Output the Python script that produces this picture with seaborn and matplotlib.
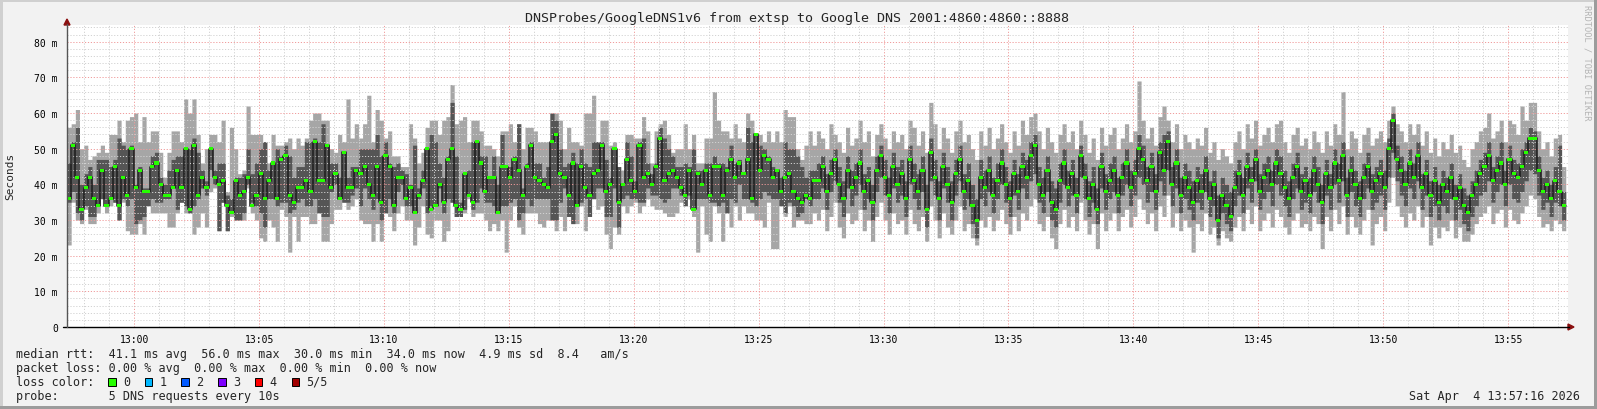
import numpy as np
import matplotlib
matplotlib.use("Agg")
import matplotlib.pyplot as plt
from matplotlib.patches import Rectangle, Polygon
from matplotlib.lines import Line2D
import seaborn as sns

# one value per 10 s step (360 steps), milliseconds
rtt_median = [
    36, 51, 42, 33, 39, 42, 36, 34, 44, 34,
    36, 45, 34, 42, 37, 50, 39, 44, 38, 38,
    45, 46, 40, 37, 37, 39, 44, 39, 50, 33,
    51, 37, 42, 39, 50, 42, 40, 41, 34, 32,
    41, 37, 38, 42, 34, 37, 43, 36, 41, 46,
    36, 47, 48, 37, 35, 39, 39, 41, 38, 52,
    41, 41, 51, 39, 43, 36, 49, 39, 39, 44,
    43, 45, 40, 37, 45, 35, 48, 45, 34, 42,
    42, 36, 39, 32, 37, 41, 50, 33, 34, 40,
    35, 47, 50, 34, 33, 43, 37, 35, 52, 46,
    38, 42, 42, 32, 45, 45, 42, 47, 44, 37,
    45, 51, 42, 41, 40, 39, 52, 54, 43, 42,
    37, 46, 34, 45, 39, 37, 43, 44, 51, 38,
    40, 50, 35, 40, 47, 41, 38, 51, 42, 43,
    40, 45, 53, 41, 43, 44, 42, 39, 37, 44,
    33, 43, 40, 44, 37, 45, 45, 37, 44, 47,
    42, 46, 43, 47, 36, 54, 44, 48, 47, 42,
    44, 38, 42, 43, 38, 36, 35, 37, 36, 41,
    41, 45, 38, 43, 47, 40, 36, 44, 39, 42,
    46, 38, 41, 35, 44, 48, 42, 37, 45, 40,
    43, 36, 47, 41, 38, 44, 33, 49, 42, 36,
    45, 40, 35, 43, 47, 38, 41, 34, 30, 42,
    39, 44, 37, 41, 46, 40, 36, 43, 38, 45,
    42, 48, 51, 40, 37, 44, 35, 33, 41, 46,
    39, 43, 37, 48, 42, 36, 40, 33, 45, 38,
    41, 44, 37, 42, 46, 39, 43, 50, 47, 41,
    45, 38, 49, 44, 52, 40, 46, 37, 42, 39,
    35, 41, 38, 44, 36, 40, 30, 37, 34, 31,
    39, 43, 37, 45, 41, 47, 38, 42, 44, 40,
    46, 43, 39, 36, 42, 45, 38, 41, 37, 44,
    40, 35, 43, 39, 46, 41, 48, 37, 44, 40,
    36, 42, 45, 38, 41, 43, 39, 50, 58, 47,
    44, 40, 46, 42, 48, 39, 43, 37, 41, 35,
    40, 38, 42, 36, 39, 34, 32, 37, 40, 43,
    45, 48, 41, 44, 46, 40, 47, 43, 42, 45,
    49, 53, 53, 44, 38, 40, 36, 41, 38, 34,
]
rtt_max = [
    56, 57, 61, 50, 51, 47, 48, 49, 51, 49,
    54, 54, 58, 52, 58, 59, 60, 52, 59, 52,
    55, 55, 49, 42, 49, 55, 55, 52, 64, 60,
    64, 54, 46, 50, 54, 54, 52, 58, 38, 56,
    50, 43, 44, 62, 54, 54, 54, 52, 46, 54,
    51, 51, 52, 53, 50, 53, 51, 53, 58, 60,
    60, 58, 58, 50, 49, 54, 52, 64, 53, 57,
    53, 57, 65, 52, 61, 58, 53, 55, 48, 48,
    45, 45, 57, 53, 46, 49, 56, 58, 58, 54,
    58, 59, 68, 57, 58, 59, 52, 58, 58, 55,
    51, 51, 50, 48, 55, 55, 57, 52, 57, 50,
    56, 56, 55, 52, 52, 52, 60, 60, 58, 50,
    56, 52, 52, 51, 60, 60, 65, 52, 58, 58,
    51, 52, 45, 44, 54, 54, 53, 53, 59, 55,
    46, 55, 57, 58, 54, 49, 50, 50, 57, 50,
    54, 46, 46, 53, 53, 66, 58, 55, 55, 53,
    57, 53, 52, 60, 58, 54, 54, 52, 55, 52,
    55, 52, 61, 59, 59, 50, 47, 51, 55, 51,
    55, 53, 50, 57, 54, 52, 49, 56, 51, 53,
    58, 52, 55, 48, 54, 57, 53, 50, 55, 52,
    54, 50, 58, 56, 51, 55, 49, 63, 57, 50,
    56, 53, 49, 55, 58, 52, 54, 50, 47, 55,
    51, 56, 50, 53, 57, 52, 49, 55, 51, 58,
    54, 59, 60, 55, 50, 56, 52, 49, 54, 57,
    52, 55, 50, 58, 54, 49, 53, 47, 56, 51,
    54, 56, 50, 53, 57, 52, 55, 69, 58, 53,
    56, 51, 59, 62, 58, 52, 57, 50, 54, 52,
    50, 53, 51, 56, 49, 52, 47, 50, 48, 46,
    52, 55, 50, 57, 53, 58, 51, 54, 56, 52,
    57, 58, 52, 49, 54, 56, 51, 53, 50, 55,
    52, 49, 55, 51, 57, 54, 66, 50, 55, 53,
    49, 54, 56, 51, 53, 55, 52, 58, 62, 57,
    55, 52, 57, 54, 57, 51, 55, 49, 53, 48,
    52, 50, 54, 49, 51, 47, 45, 50, 52, 55,
    56, 60, 53, 55, 58, 52, 58, 57, 54, 62,
    58, 63, 63, 55, 50, 52, 48, 53, 54, 45,
]
rtt_high = [
    46, 52, 56, 40, 43, 45, 40, 47, 47, 47,
    45, 47, 53, 51, 50, 51, 40, 45, 39, 39,
    48, 49, 42, 40, 44, 47, 48, 48, 50, 50,
    53, 49, 44, 41, 50, 44, 46, 46, 37, 36,
    42, 42, 43, 50, 43, 46, 50, 52, 44, 46,
    50, 48, 51, 48, 42, 45, 45, 52, 52, 53,
    52, 57, 51, 46, 46, 42, 49, 42, 45, 45,
    50, 50, 50, 50, 54, 48, 52, 46, 45, 46,
    44, 43, 40, 51, 39, 44, 50, 54, 52, 46,
    42, 48, 63, 48, 35, 43, 44, 52, 52, 48,
    48, 42, 48, 40, 54, 45, 45, 48, 57, 39,
    46, 52, 46, 46, 42, 45, 60, 58, 50, 45,
    46, 49, 46, 50, 46, 45, 52, 52, 52, 47,
    42, 50, 45, 40, 52, 48, 41, 52, 53, 46,
    43, 46, 56, 53, 50, 48, 45, 45, 46, 45,
    50, 44, 44, 46, 46, 48, 46, 46, 45, 51,
    46, 47, 43, 56, 52, 54, 51, 50, 48, 45,
    44, 42, 52, 50, 50, 48, 45, 42, 44, 44,
    46, 48, 43, 47, 50, 45, 41, 48, 44, 46,
    50, 43, 45, 40, 48, 51, 47, 42, 49, 45,
    47, 41, 51, 46, 43, 48, 40, 53, 47, 41,
    49, 45, 41, 47, 51, 43, 46, 40, 36, 47,
    44, 48, 42, 46, 50, 45, 41, 47, 43, 49,
    47, 52, 54, 45, 42, 48, 41, 39, 46, 50,
    44, 47, 42, 51, 46, 41, 45, 39, 49, 43,
    46, 48, 42, 46, 50, 44, 47, 54, 51, 45,
    49, 43, 52, 54, 55, 45, 50, 42, 46, 44,
    41, 45, 43, 48, 41, 44, 37, 42, 40, 38,
    44, 47, 42, 49, 45, 50, 43, 46, 48, 44,
    50, 48, 44, 41, 46, 49, 43, 45, 42, 48,
    45, 40, 47, 43, 50, 46, 52, 42, 48, 44,
    41, 46, 49, 43, 45, 47, 44, 53, 60, 51,
    48, 44, 50, 46, 52, 43, 47, 41, 45, 40,
    44, 42, 46, 40, 43, 39, 37, 41, 44, 47,
    49, 52, 45, 48, 52, 44, 51, 47, 46, 50,
    52, 56, 55, 48, 42, 44, 40, 45, 51, 38,
]
rtt_low = [
    35, 38, 32, 30, 34, 31, 31, 34, 36, 34,
    36, 35, 30, 36, 34, 36, 29, 30, 31, 34,
    36, 35, 35, 36, 36, 39, 33, 35, 34, 32,
    34, 36, 39, 37, 44, 40, 27, 35, 27, 32,
    30, 30, 32, 40, 35, 34, 32, 28, 36, 36,
    34, 35, 35, 32, 33, 35, 36, 34, 34, 36,
    32, 31, 31, 38, 40, 36, 35, 35, 37, 39,
    34, 39, 36, 33, 36, 30, 32, 36, 32, 38,
    40, 34, 34, 32, 36, 39, 32, 34, 34, 39,
    32, 36, 35, 31, 31, 33, 37, 33, 35, 39,
    35, 35, 34, 32, 34, 34, 35, 36, 30, 32,
    36, 34, 36, 36, 36, 36, 30, 30, 35, 39,
    31, 29, 34, 35, 36, 31, 36, 39, 39, 31,
    31, 39, 28, 36, 37, 36, 36, 35, 35, 39,
    37, 37, 36, 35, 36, 39, 39, 37, 34, 37,
    33, 36, 36, 36, 35, 35, 34, 35, 32, 36,
    35, 40, 36, 36, 35, 34, 36, 38, 37, 36,
    36, 34, 32, 35, 34, 31, 32, 36, 34, 36,
    36, 39, 33, 38, 41, 35, 31, 39, 34, 37,
    40, 33, 36, 30, 38, 42, 37, 32, 39, 35,
    37, 31, 40, 36, 33, 38, 28, 41, 37, 30,
    39, 35, 30, 37, 41, 33, 36, 29, 25, 36,
    34, 38, 32, 36, 40, 35, 31, 37, 33, 39,
    36, 41, 43, 35, 32, 38, 30, 28, 35, 40,
    34, 37, 32, 42, 36, 31, 35, 29, 39, 33,
    36, 38, 32, 37, 40, 34, 37, 42, 40, 35,
    38, 33, 41, 37, 44, 34, 39, 32, 36, 33,
    30, 35, 33, 38, 31, 34, 25, 32, 29, 27,
    34, 37, 32, 39, 35, 41, 33, 36, 38, 34,
    40, 37, 34, 31, 36, 39, 33, 35, 32, 38,
    35, 29, 37, 33, 40, 35, 41, 31, 38, 34,
    31, 36, 39, 33, 35, 37, 33, 42, 49, 41,
    37, 34, 39, 36, 41, 33, 37, 31, 34, 30,
    34, 32, 36, 30, 33, 29, 27, 31, 34, 37,
    38, 41, 35, 38, 40, 34, 40, 36, 35, 38,
    41, 44, 43, 37, 33, 35, 31, 35, 34, 30,
]
rtt_min = [
    23, 35, 30, 29, 33, 29, 29, 32, 36, 32,
    34, 35, 30, 35, 27, 26, 26, 29, 26, 34,
    32, 32, 32, 32, 28, 28, 32, 35, 32, 32,
    26, 28, 32, 28, 38, 39, 27, 35, 27, 31,
    30, 30, 30, 39, 32, 30, 25, 24, 30, 28,
    24, 33, 31, 21, 31, 24, 31, 31, 29, 29,
    32, 24, 24, 29, 33, 33, 35, 33, 34, 36,
    30, 29, 29, 24, 29, 24, 32, 31, 27, 32,
    34, 30, 30, 23, 28, 34, 26, 25, 30, 30,
    24, 27, 35, 31, 31, 32, 36, 31, 32, 32,
    30, 27, 29, 27, 30, 21, 30, 34, 28, 26,
    32, 32, 32, 29, 28, 30, 30, 27, 31, 27,
    31, 29, 29, 34, 27, 31, 36, 33, 34, 26,
    22, 28, 26, 34, 32, 34, 35, 32, 34, 36,
    34, 33, 33, 32, 31, 31, 32, 35, 34, 36,
    31, 21, 34, 26, 24, 34, 32, 24, 32, 28,
    34, 30, 34, 32, 32, 30, 30, 28, 35, 22,
    22, 34, 31, 34, 28, 30, 30, 29, 29, 32,
    30, 33, 27, 31, 35, 28, 25, 32, 29, 30,
    33, 27, 30, 24, 31, 35, 30, 26, 32, 29,
    30, 26, 33, 29, 27, 31, 24, 34, 30, 25,
    32, 28, 26, 30, 34, 27, 29, 25, 23, 30,
    28, 31, 27, 30, 33, 29, 26, 31, 27, 32,
    30, 34, 36, 29, 27, 31, 25, 22, 29, 33,
    28, 31, 27, 35, 30, 26, 29, 22, 32, 27,
    30, 32, 27, 31, 33, 28, 31, 36, 33, 29,
    32, 27, 34, 31, 37, 28, 32, 27, 30, 28,
    21, 29, 27, 32, 26, 28, 23, 27, 25, 24,
    28, 31, 27, 33, 29, 34, 27, 30, 32, 28,
    33, 31, 28, 26, 30, 32, 28, 29, 27, 31,
    29, 22, 31, 27, 33, 29, 34, 26, 31, 28,
    26, 30, 33, 23, 29, 31, 27, 35, 42, 34,
    31, 28, 32, 30, 34, 28, 31, 23, 28, 25,
    28, 27, 30, 25, 28, 24, 24, 26, 29, 31,
    32, 34, 29, 32, 33, 28, 33, 30, 29, 32,
    34, 37, 36, 31, 28, 29, 27, 30, 29, 27,
]

time_ticks = [0, 5, 10, 15, 20, 25, 30, 35, 40, 45, 50, 55]   # minutes after 13:00
time_labels = ["13:00", "13:05", "13:10", "13:15", "13:20", "13:25",
               "13:30", "13:35", "13:40", "13:45", "13:50", "13:55"]
value_ticks = [0, 10, 20, 30, 40, 50, 60, 70, 80]
value_labels = ["0", "10 m", "20 m", "30 m", "40 m", "50 m", "60 m", "70 m", "80 m"]
loss_labels = ["0", "1", "2", "3", "4", "5/5"]
loss_colors = ["#26ff00", "#00b8ff", "#0059ff", "#7e00ff", "#ff0000", "#a10000"]

W, H = 1597, 410
MONO = "DejaVu Sans Mono"

sns.set_style("white")
plt.rcParams["font.family"] = [MONO, "DejaVu Sans"]


def fx(x):
    return x / W


def fy(y):
    return 1 - y / H


fig = plt.figure(figsize=(W / 100, H / 100), dpi=100, facecolor="#f2f2f2")
ax = fig.add_axes([fx(67), fy(328), (1568 - 67) / W, (328 - 26) / H])
ax.set_facecolor("white")

t0 = -2.69
step = 1 / 6
n = len(rtt_median)
edges = t0 + np.arange(n + 1) * step


def pad(v):
    v = np.asarray(v, dtype=float)
    return np.append(v, v[-1])


# smoke: light outer band, dark inner band
ax.fill_between(edges, pad(rtt_min), pad(rtt_max), step="post",
                color="#a6a6a6", lw=0, zorder=1)
ax.fill_between(edges, pad(rtt_low), pad(rtt_high), step="post",
                color="#555555", lw=0, zorder=1.2)

# median line plus loss-coloured marks
sns.lineplot(x=edges, y=pad(rtt_median), ax=ax, drawstyle="steps-post",
             color="#1c1c1c", linewidth=1.1, estimator=None, sort=False,
             errorbar=None, zorder=3)
ax.bar(edges[:-1], 0.85, bottom=np.asarray(rtt_median) - 0.425, width=step,
       align="edge", color=loss_colors[0], linewidth=0, zorder=4)

ax.set_xlim(t0, 57.4)
ax.set_ylim(0, 84.7)
ax.set_xticks(time_ticks)
ax.set_xticklabels(time_labels)
ax.set_xticks(np.arange(-2, 58, 1), minor=True)
ax.set_yticks(value_ticks)
ax.set_yticklabels(value_labels)
ax.set_yticks(np.arange(0, 85, 2), minor=True)
ax.set_axisbelow(False)
ax.grid(which="minor", color="#d2d2d2", linestyle=(0, (1.2, 1.8)), linewidth=0.7)
ax.grid(which="major", color="#f09a9a", linestyle=(0, (1.2, 1.8)), linewidth=0.7)
ax.tick_params(axis="x", which="major", length=3, width=0.6, direction="inout",
               pad=3.5, labelsize=7, colors="#000000")
ax.tick_params(axis="x", which="minor", length=3, width=0.5, direction="inout",
               color="#888888")
ax.tick_params(axis="y", which="major", length=3, width=0.6, direction="out",
               pad=3.5, labelsize=7, colors="#000000")
ax.tick_params(axis="y", which="minor", length=0)
for s in ax.spines.values():
    s.set_visible(False)

# axis lines with arrows
fig.add_artist(Line2D([fx(63), fx(1569)], [fy(328), fy(328)], color="#000000",
                      lw=1.0, transform=fig.transFigure))
fig.add_artist(Line2D([fx(67), fx(67)], [fy(328), fy(25)], color="#555555",
                      lw=1.0, transform=fig.transFigure))
fig.add_artist(Polygon([[fx(1568), fy(325)], [fx(1568), fy(331)], [fx(1574), fy(328)]],
                       closed=True, color="#8b1010", transform=fig.transFigure))
fig.add_artist(Polygon([[fx(64), fy(26)], [fx(70), fy(26)], [fx(67), fy(20)]],
                       closed=True, color="#8b1010", transform=fig.transFigure))

# title, axis label, watermark
fig.text(fx(797), fy(18.5), "DNSProbes/GoogleDNS1v6 from extsp to Google DNS 2001:4860:4860::8888",
         ha="center", va="center", fontsize=9.6, family=MONO)
fig.text(fx(10.5), fy(176), "Seconds", rotation=90, ha="center", va="center",
         fontsize=8, family=MONO)
fig.text(fx(1587), fy(5), "RRDTOOL / TOBI OETIKER", rotation=270, ha="center",
         va="top", fontsize=6.2, family=MONO, color="#b4b4b4")

# legend block
lx = 16
fig.text(fx(lx), fy(354.5),
         "median rtt:  41.1 ms avg  56.0 ms max  30.0 ms min  34.0 ms now  4.9 ms sd  8.4   am/s",
         va="center", fontsize=8.5, family=MONO)
fig.text(fx(lx), fy(368.7),
         "packet loss: 0.00 % avg  0.00 % max  0.00 % min  0.00 % now",
         va="center", fontsize=8.5, family=MONO)
fig.text(fx(lx), fy(382.5), "loss color:", va="center", fontsize=8.5, family=MONO)
for i, (lab, col) in enumerate(zip(loss_labels, loss_colors)):
    bx = 108 + 36.7 * i
    fig.add_artist(Rectangle((fx(bx), fy(386.5)), 7.5 / W, 7.5 / H, facecolor=col,
                             edgecolor="#000000", lw=0.7, transform=fig.transFigure))
    fig.text(fx(bx + 15), fy(382.5), lab, va="center", fontsize=8.5, family=MONO)
fig.text(fx(lx), fy(396.5), "probe:       5 DNS requests every 10s",
         va="center", fontsize=8.5, family=MONO)
fig.text(fx(1580), fy(396.5), "Sat Apr  4 13:57:16 2026", ha="right",
         va="center", fontsize=8.5, family=MONO)

# 3d-ish frame around the canvas
fig.add_artist(Rectangle((0, fy(2.5)), 1, 2.5 / H, color="#d0d0d0", lw=0,
                         transform=fig.transFigure))
fig.add_artist(Rectangle((0, 0), 2.5 / W, 1, color="#d0d0d0", lw=0,
                         transform=fig.transFigure))
fig.add_artist(Rectangle((0, 0), 1, 3 / H, color="#9c9c9c", lw=0,
                         transform=fig.transFigure))
fig.add_artist(Rectangle((1 - 3 / W, 0), 3 / W, 1, color="#9c9c9c", lw=0,
                         transform=fig.transFigure))

fig.savefig("out.png", dpi=100, facecolor=fig.get_facecolor())
